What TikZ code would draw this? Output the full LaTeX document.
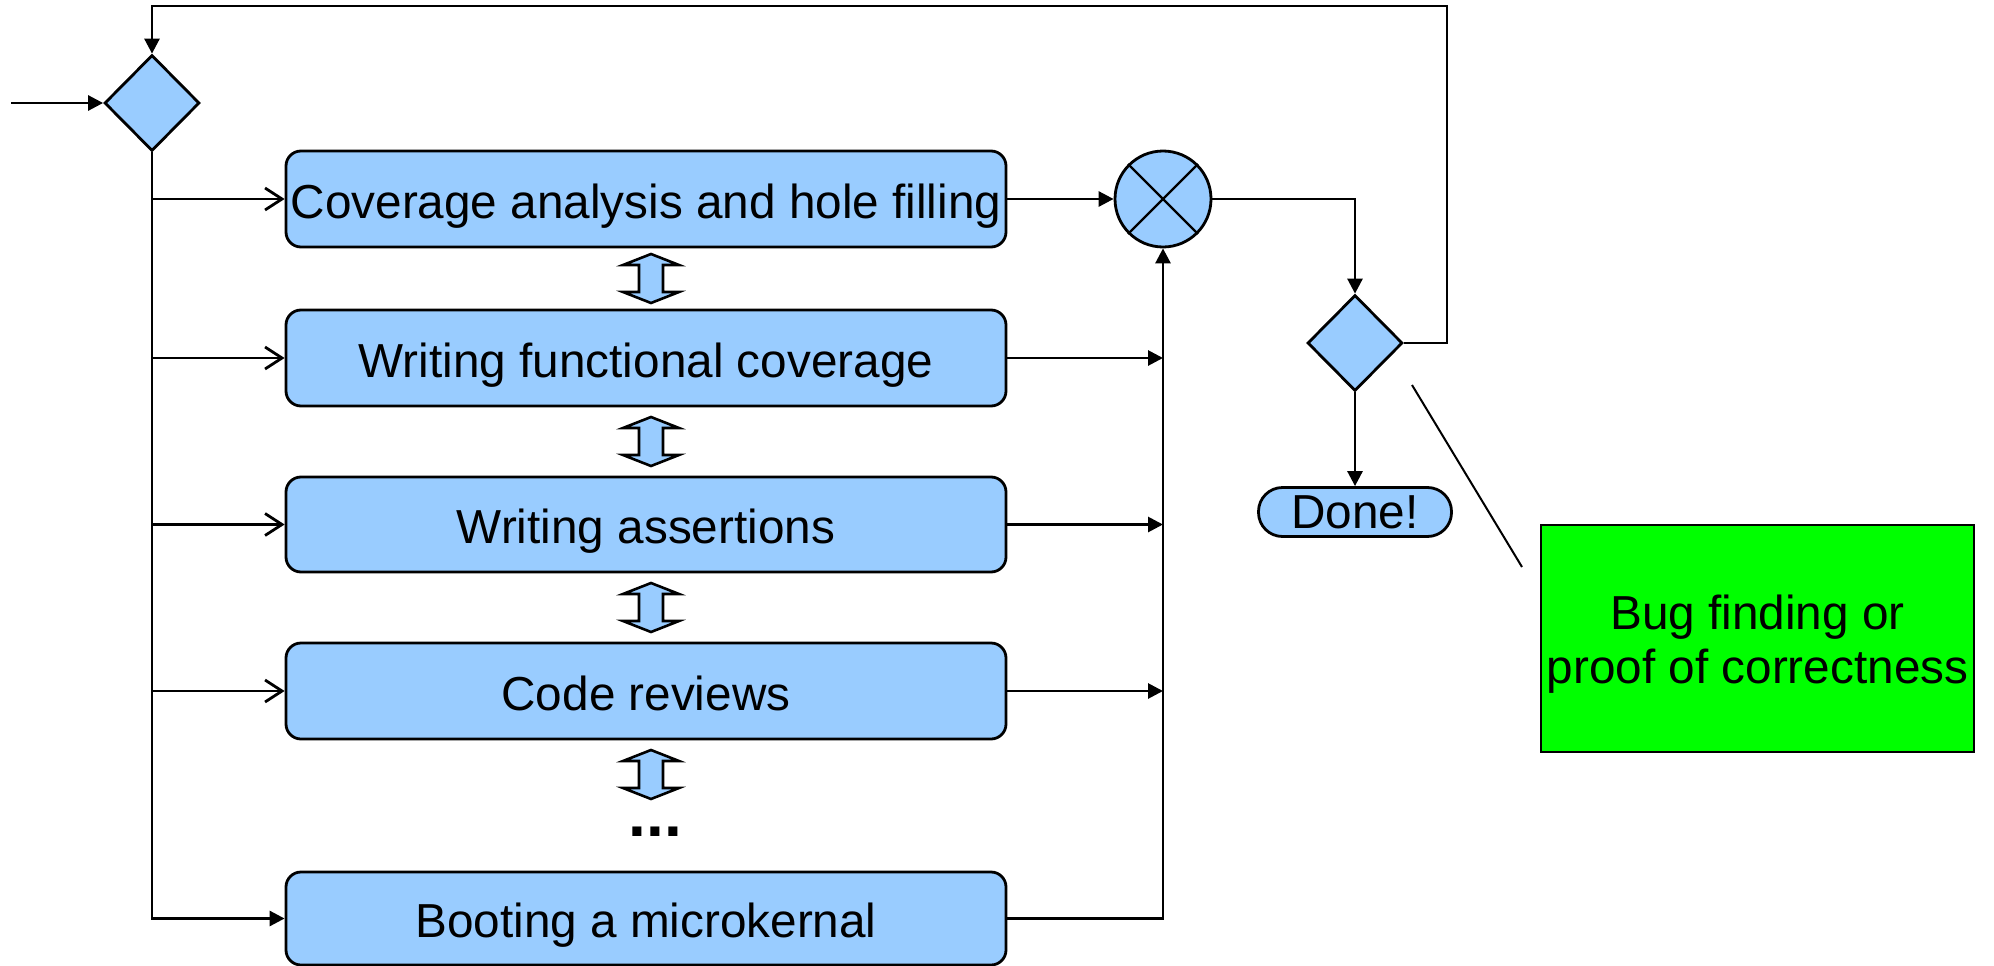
\documentclass[tikz,border=0pt]{standalone}
\usepackage{fontspec}
\setmainfont{Liberation Sans}
\usetikzlibrary{shapes.geometric,arrows.meta}
\definecolor{lblue}{RGB}{153,204,255}
\definecolor{lgreen}{RGB}{0,255,0}
\begin{document}
\begin{tikzpicture}[x=1pt,y=-1pt,
  line width=2.8pt,
  txt/.style={font=\fontsize{47.7pt}{54pt}\selectfont},
  arr/.style={-{Triangle[length=15pt,width=15pt]}},
  oarr/.style={-{Straight Barb[length=17pt,width=22pt,line width=2.8pt]}},
  decision/.style={diamond, draw, fill=lblue, minimum width=95pt, minimum height=96pt, inner sep=0pt},
  task/.style={rectangle, draw, fill=lblue, rounded corners=15pt, minimum width=720pt, minimum height=96pt, inner sep=0pt, text height=44pt, text depth=6pt, txt},
  dblarrow/.pic={\draw[fill=lblue, line width=2.6pt, line join=miter]
     (0,-24.5) -- (28,-13.5) -- (12,-13.5) -- (12,13.5) -- (28,13.5) -- (0,24.5)
     -- (-28,13.5) -- (-12,13.5) -- (-12,-13.5) -- (-28,-13.5) -- cycle;}
]
\useasboundingbox (0,0) rectangle (1994,966);

% decisions
\node[decision] (d1) at (152,103) {};
\node[decision] (d2) at (1355,343) {};

% tasks
\node[task] (b1) at (646,199) {Coverage analysis and hole filling};
\node[task] (b2) at (646,358) {Writing functional coverage};
\node[task, minimum height=95pt] (b3) at (646,524.5) {Writing assertions};
\node[task] (b4) at (646,691) {Code reviews};
\node[task, minimum height=93pt] (b5) at (646,918.5) {Booting a microkernal};

% merge circle
\node[circle, draw, fill=lblue, minimum size=96pt, inner sep=0pt] (c) at (1163,199) {};
\draw[line width=2.3pt] (c.north west) -- (c.south east);
\draw[line width=2.3pt] (c.north east) -- (c.south west);

% done
\node[rectangle, draw, fill=lblue, rounded corners=24pt, minimum width=193pt, minimum height=49pt, inner sep=0pt, txt] (done) at (1355,512) {Done!};

% green note
\node[rectangle, draw, fill=lgreen, line width=2pt, minimum width=433pt, minimum height=227pt, inner sep=0pt] (g) at (1757.5,638.5) {};
\node[align=center, inner sep=0pt, txt] (gt) at ([yshift=-6pt]g.center) {Bug finding or\\proof of correctness};
\coordinate (n1) at (1412,385);
\coordinate (n2) at (1522,567);
\draw[line width=2pt] (n1) -- (n2);

% double arrows between tasks
\pic (a1) at (651,278.5) {dblarrow};
\pic (a2) at (651,441.5) {dblarrow};
\pic (a3) at (651,607.5) {dblarrow};
\pic (a4) at (651,774.5) {dblarrow};
\node[font=\fontsize{64pt}{70pt}\selectfont\bfseries, inner sep=0pt] (dots) at (655.5,832) {...};

% input
\coordinate (in) at (11,103);
\draw[arr] (in) -- (d1.west);

% trunk and branches
\draw[arr] (d1.south) |- (b5.west);
\draw[oarr] (d1.south |- b1.west) -- (b1.west);
\draw[oarr] (d1.south |- b2.west) -- (b2.west);
\draw[oarr] (d1.south |- b3.west) -- (b3.west);
\draw[oarr] (d1.south |- b4.west) -- (b4.west);

% outputs to merge
\draw[arr] (b1.east) -- (c.west);
\draw[arr] (b2.east) -- (b2.east -| c.south);
\draw[arr] (b3.east) -- (b3.east -| c.south);
\draw[arr] (b4.east) -- (b4.east -| c.south);
\draw[arr] (b5.east) -| (c.south);

% merge to decision 2
\draw[arr] (c.east) -| (d2.north);
\draw[arr] (d2.south) -- (done.north);

% loop back
\coordinate (loopR) at (1447,6);
\coordinate (loopL) at (152,6);
\draw[arr] (d2.east) -| (loopR) -- (loopL) -- (d1.north);
\end{tikzpicture}
\end{document}
